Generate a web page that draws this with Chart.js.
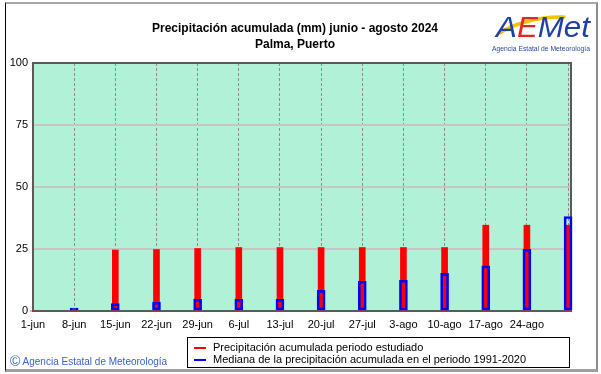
<!DOCTYPE html>
<html lang="es">
<head>
<meta charset="utf-8">
<title>Precipitación acumulada (mm) junio - agosto 2024 - Palma, Puerto</title>
<script src="https://cdn.jsdelivr.net/npm/chart.js@4.4.1/dist/chart.umd.min.js"></script>
<style>
  html, body { margin: 0; padding: 0; background: #fff; }
  #wrap { position: relative; width: 601px; height: 374px; overflow: hidden;
          font-family: 'Liberation Sans', Arial, sans-serif; }
  #wrap canvas { position: absolute; left: 0; top: 0; }
  .frame { position: absolute; left: 5px; top: 2px; width: 590px; height: 365px;
           border-top: 2px solid #a8a8a8; border-left: 1px solid #000;
           border-right: 2px solid #8c8c8c; border-bottom: 3px solid #a0a0a0; }
  .title { position: absolute; left: 0; top: 20px; width: 590px; text-align: center;
           font-weight: bold; font-size: 12px; line-height: 16px; color: #000; }
  .logo { position: absolute; left: 486px; top: 0; }
  .legend { position: absolute; left: 187px; top: 337px; width: 381px; height: 29px;
            border: 1px solid #000; background: #fff; font-size: 11px; color: #000; }
  .legend div { position: absolute; left: 25px; white-space: nowrap; line-height: 12px; }
  .legend span { position: absolute; left: -19px; top: 6px; width: 12px; height: 2px; }
  .copy { position: absolute; left: 10px; top: 353px; font-size: 10px; color: #3a62c8; white-space: nowrap; }
  .copy b { font-weight: normal; font-size: 14px; vertical-align: -1px; }
</style>
</head>
<body>
<div id="wrap">
  <div class="frame"></div>
  <canvas id="chart" width="601" height="374"></canvas>
  <div class="title">Precipitación acumulada (mm) junio - agosto 2024<br>Palma, Puerto</div>
  <svg class="logo" width="112" height="56" viewBox="0 0 112 56">
    <path d="M14 33 C 24 26, 50 16, 78 17" fill="none" stroke="#f5c400" stroke-width="3.5" stroke-linecap="round"/>
    <text x="10" y="37" font-family="Liberation Sans" font-style="italic" font-size="30" textLength="94" lengthAdjust="spacingAndGlyphs"><tspan fill="#1f3fa8">A</tspan><tspan fill="#e8241c">E</tspan><tspan fill="#1f3fa8">Met</tspan></text>
    <text x="6" y="51" font-family="Liberation Sans" font-size="7" fill="#2a4aa0" textLength="98" lengthAdjust="spacingAndGlyphs">Agencia Estatal de Meteorología</text>
  </svg>
  <div class="legend">
    <div style="top:3px"><span style="background:#ff0000"></span>Precipitación acumulada periodo estudiado</div>
    <div style="top:15px"><span style="background:#0000ff"></span>Mediana de la precipitación acumulada en el periodo 1991-2020</div>
  </div>
  <div class="copy"><b>©</b> Agencia Estatal de Meteorología</div>
</div>
<script>
// días desde el 1 de junio (una marca por semana)
const weekDays = [0, 7, 14, 21, 28, 35, 42, 49, 56, 63, 70, 77, 84, 91];
const weekLabels = ['1-jun', '8-jun', '15-jun', '22-jun', '29-jun', '6-jul', '13-jul',
                    '20-jul', '27-jul', '3-ago', '10-ago', '17-ago', '24-ago', ''];
// precipitación acumulada (mm) periodo estudiado
const precipStudied = [0, 0, 24.6, 24.8, 25.2, 25.6, 25.6, 25.6, 25.6, 25.6, 25.6, 34.6, 34.6, 34.6];
// mediana de la precipitación acumulada 1991-2020
const precipMedian = [0, 1.2, 3.0, 3.6, 4.7, 4.7, 4.7, 8.3, 12.0, 12.4, 15.2, 18.2, 24.9, 38.1];
const yTicks = [0, 25, 50, 75, 100];

const tickFont = { family: "'Liberation Sans', Arial, sans-serif", size: 11 };

// fondo verde y marco del área de trazado
const plotFrame = {
  id: 'plotFrame',
  beforeDraw(chart) {
    const { ctx, chartArea: a } = chart;
    ctx.save();
    ctx.fillStyle = '#b0f1d8';
    ctx.fillRect(a.left, a.top, a.right - a.left, a.bottom - a.top);
    ctx.restore();
  },
  beforeDatasetsDraw(chart) {
    const { ctx, chartArea: a } = chart;
    ctx.save();
    ctx.strokeStyle = '#5a5a5a';
    ctx.lineWidth = 2;
    ctx.strokeRect(a.left, a.top, a.right - a.left, a.bottom - a.top);
    ctx.restore();
  }
};

new Chart(document.getElementById('chart'), {
  type: 'bar',
  data: {
    datasets: [
      {
        label: 'Mediana de la precipitación acumulada en el periodo 1991-2020',
        data: weekDays.map((d, i) => ({ x: d, y: precipMedian[i] })),
        backgroundColor: 'rgba(0,0,0,0)',
        borderColor: '#0000ff',
        borderWidth: 2,
        borderSkipped: false,
        barThickness: 8,
        grouped: false,
        order: 0,
        clip: false
      },
      {
        label: 'Precipitación acumulada periodo estudiado',
        data: weekDays.map((d, i) => ({ x: d, y: precipStudied[i] })),
        backgroundColor: '#ff0000',
        borderWidth: 0,
        barThickness: 6,
        grouped: false,
        order: 1,
        clip: false
      }
    ]
  },
  options: {
    responsive: false,
    animation: false,
    events: [],
    layout: { padding: { top: 63, right: 30, bottom: 0, left: 0 } },
    plugins: { legend: { display: false }, tooltip: { enabled: false }, title: { display: false } },
    scales: {
      x: {
        type: 'linear',
        min: 0,
        max: 91.5,
        offset: false,
        afterBuildTicks: (s) => { s.ticks = weekDays.map(v => ({ value: v })); },
        afterFit: (s) => { s.height = 63; },
        ticks: {
          autoSkip: false,
          maxRotation: 0,
          padding: 7,
          color: '#000',
          font: tickFont,
          callback: (v, i) => weekLabels[i]
        },
        grid: { offset: false, color: '#8c8c8c', lineWidth: 1, drawTicks: false },
        border: { display: false, dash: [3, 2] }
      },
      y: {
        min: 0,
        max: 100,
        afterBuildTicks: (s) => { s.ticks = yTicks.map(v => ({ value: v })); },
        afterFit: (s) => { s.width = 33; },
        ticks: { padding: 5, color: '#000', font: tickFont },
        grid: { color: '#c6c6c6', lineWidth: 2, drawTicks: false },
        border: { display: false }
      }
    }
  },
  plugins: [plotFrame]
});
</script>
</body>
</html>
